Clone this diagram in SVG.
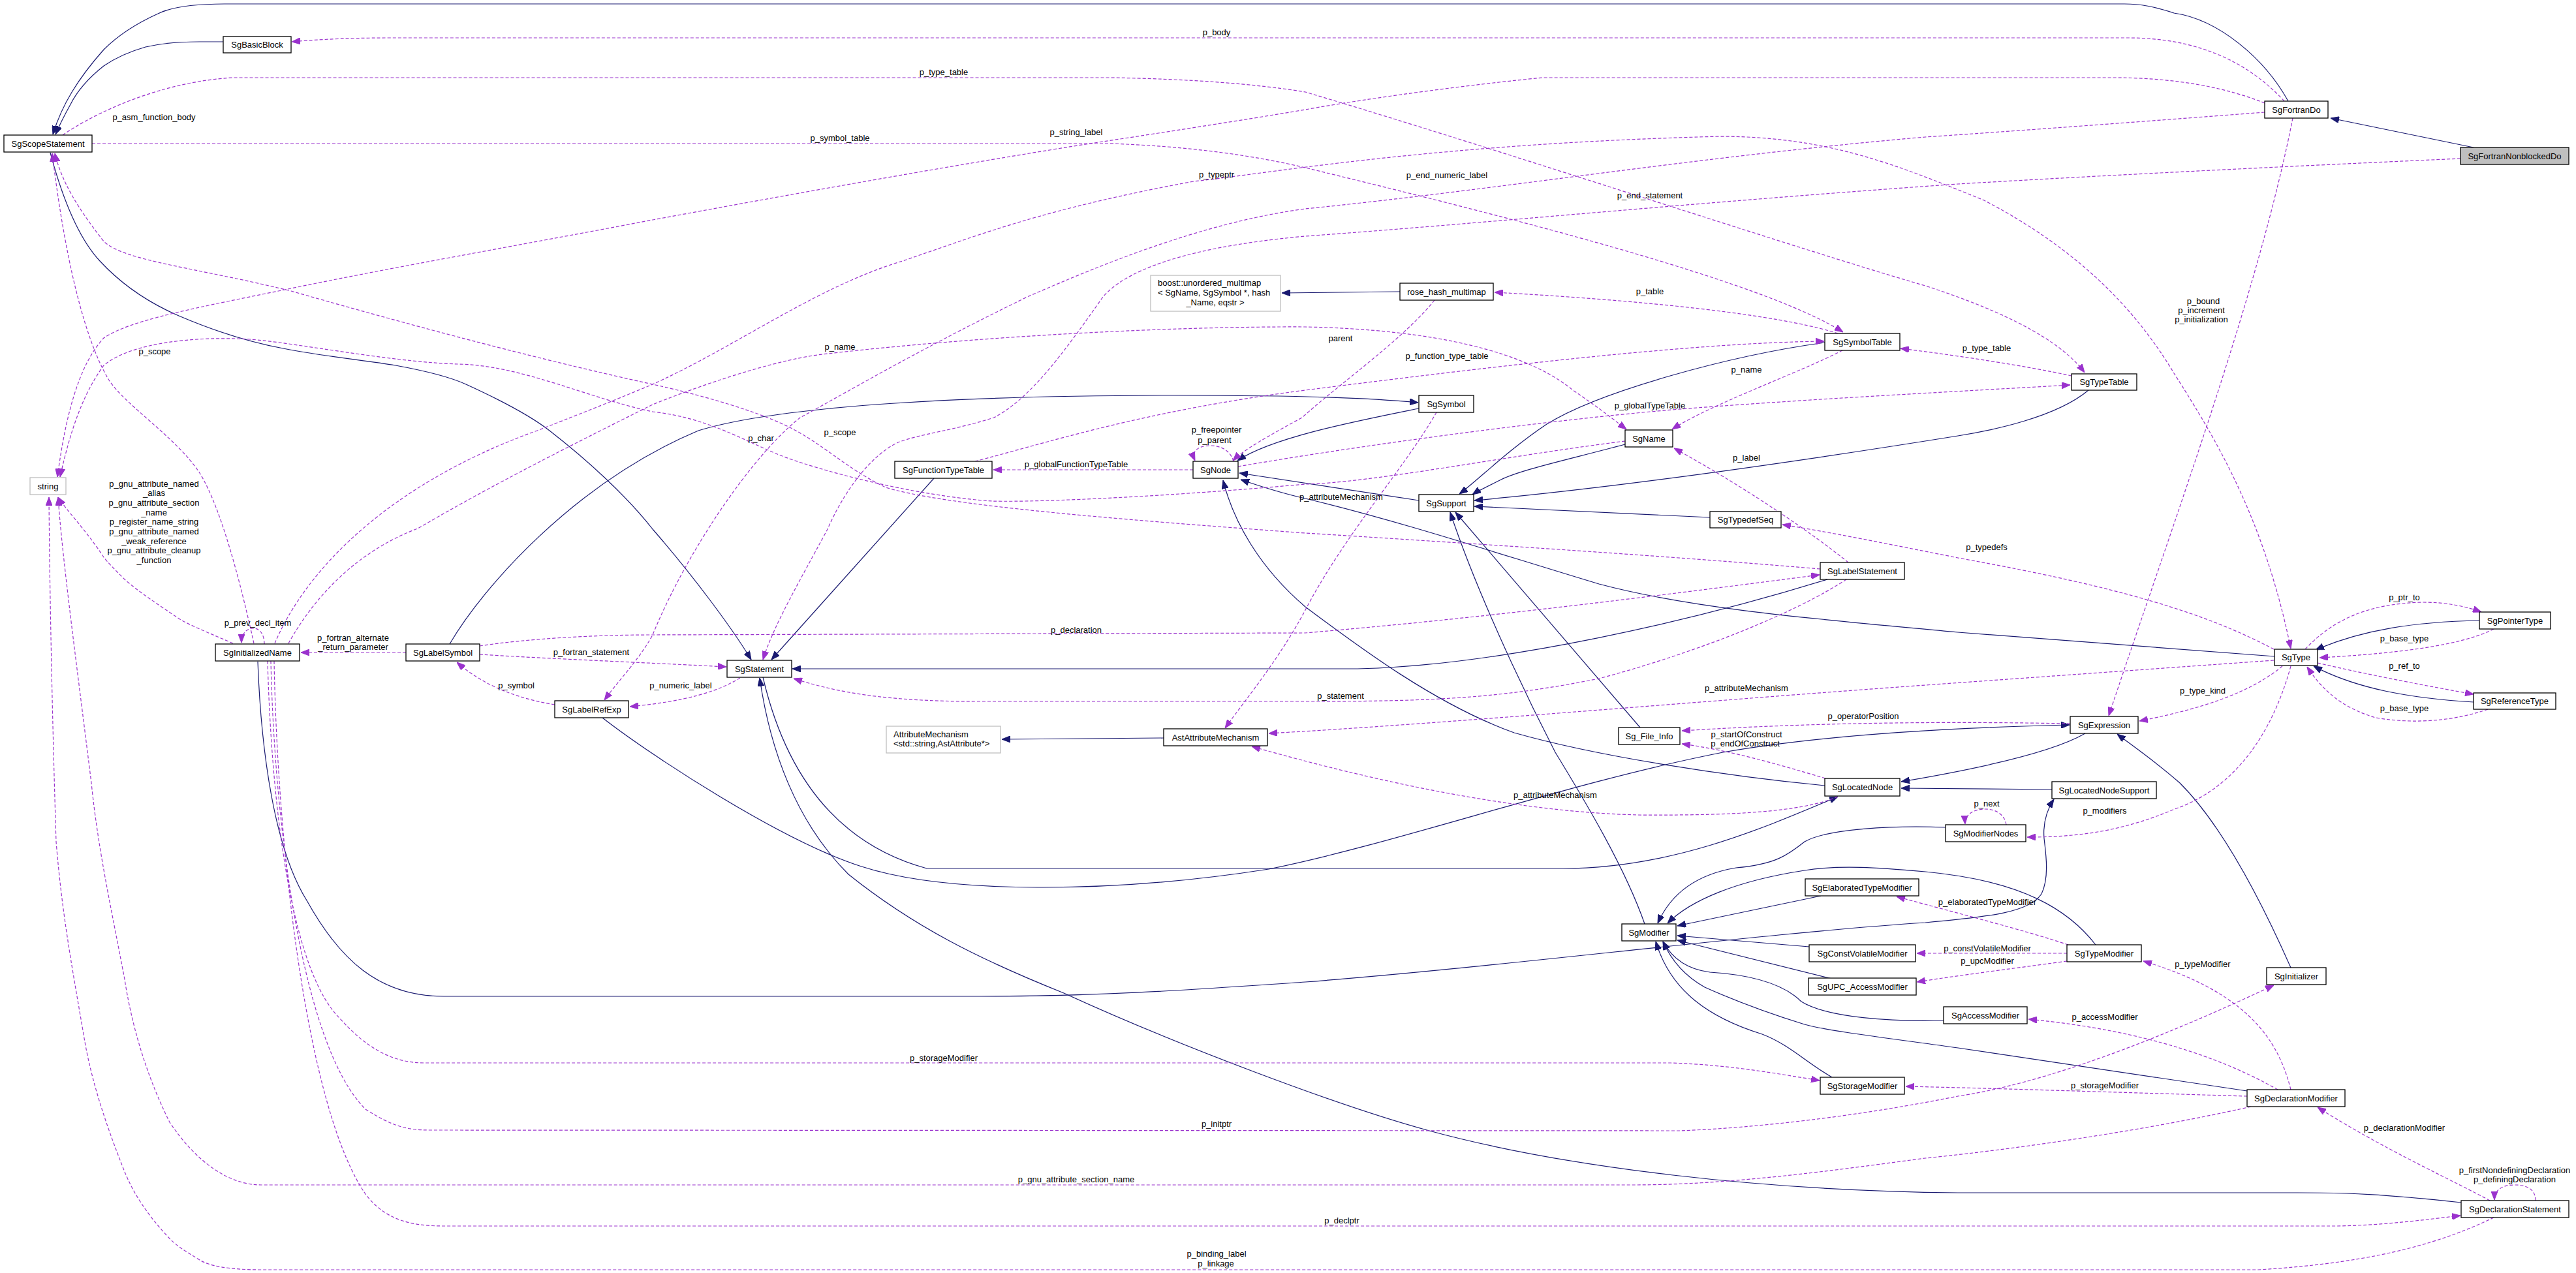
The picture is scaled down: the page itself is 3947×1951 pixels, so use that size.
<svg xmlns="http://www.w3.org/2000/svg" width="3947" height="1951" viewBox="0 0 3947 1951">
<style>
.node rect{fill:#fff;stroke:#000;stroke-width:1.3}
.ext rect{fill:#fff;stroke:#bfbfbf;stroke-width:1.3}
.hl rect{fill:#bfbfbf;stroke:#000;stroke-width:1.3}
text{font-family:"Liberation Sans",Arial,Helvetica,sans-serif;font-size:13px;fill:#000}
.c{text-anchor:middle}
.inh{fill:none;stroke:#191970;stroke-width:1.2}
.use{fill:none;stroke:#9a32cd;stroke-width:1.2;stroke-dasharray:5,3}
</style>
<defs>
<marker id="ai" markerUnits="userSpaceOnUse" markerWidth="13" markerHeight="10" viewBox="0 0 13 10" refX="13" refY="5" orient="auto"><path d="M0,0 L13,5 L0,10 z" fill="#191970" stroke="#191970" stroke-width="1"/></marker>
<marker id="au" markerUnits="userSpaceOnUse" markerWidth="13" markerHeight="10" viewBox="0 0 13 10" refX="13" refY="5" orient="auto"><path d="M0,0 L13,5 L0,10 z" fill="#9a32cd" stroke="#9a32cd" stroke-width="1"/></marker>
</defs>
<rect width="3947" height="1951" fill="#fff"/>
<g id="connectors">
<g class="inh" marker-end="url(#ai)">
<path d="M3790,226 L3571,181"/>
<path d="M3506,155 C3470,90 3400,30 3331,20 C3300,10 3280,6 3255,6 L344,6 C290,6 260,12 242,21 C200,40 175,60 159,76 C120,120 95,160 81,206"/>
<path d="M342,64 L306,64 C270,64 240,68 223,72 C195,80 175,90 159,101 C135,120 118,140 108,160 C98,178 91,192 85,206"/>
<path d="M77,234 C100,320 125,370 153,400 C190,440 230,465 274,484 C330,508 380,524 434,534 C500,547 560,552 606,560 C650,568 690,578 714,589 C760,610 810,635 842,660 C900,705 960,760 1000,811 C1060,880 1120,960 1151,1011"/>
<path d="M1431,733 L1182,1011"/>
<path d="M2800,888 C2600,950 2300,1020 2080,1025 L1214,1025"/>
<path d="M1169,1038 C1200,1170 1270,1290 1420,1331 L2395,1331 C2560,1331 2700,1270 2816,1221"/>
<path d="M3771,1843 C3650,1830 3600,1828 3520,1828 L3000,1828 C2700,1825 2400,1790 2190,1733 C2050,1695 1800,1600 1630,1522 C1500,1470 1400,1420 1300,1340 C1220,1260 1180,1150 1164,1039"/>
<path d="M923,1100 C1000,1160 1200,1290 1320,1328 C1450,1370 1700,1370 1944,1332 C2150,1290 2400,1200 2640,1153 C2800,1125 3000,1115 3171,1111"/>
<path d="M689,987 C740,900 880,740 1070,660 C1200,620 1500,606 1800,606 C2000,606 2100,610 2173,617"/>
<path d="M2174,626 C2080,645 1950,670 1896,706"/>
<path d="M2174,767 C2100,755 2000,740 1899,725"/>
<path d="M3485,1006 L3000,969 C2800,950 2600,935 2450,895 C2300,850 2150,800 2000,764 C1960,755 1930,745 1901,735"/>
<path d="M2796,1204 C2650,1190 2450,1160 2320,1123 C2200,1080 2080,990 2000,930 C1930,870 1890,800 1874,736"/>
<path d="M2490,681 C2400,705 2330,720 2300,735 C2280,745 2265,752 2256,758"/>
<path d="M2796,525 C2650,545 2450,600 2370,650 C2310,690 2260,740 2236,757"/>
<path d="M3200,598 C3150,640 3050,660 3000,668 C2800,700 2500,745 2259,767"/>
<path d="M2620,793 L2259,776"/>
<path d="M2513,1115 L2230,785"/>
<path d="M2520,1416 C2490,1330 2430,1230 2383,1153 C2330,1050 2260,900 2222,785"/>
<path d="M395,1014 C400,1150 420,1300 470,1380 C520,1470 580,1527 680,1527 L1500,1527 C1700,1527 1850,1515 2000,1505 C2300,1482 2700,1430 2950,1414 C3050,1405 3110,1398 3128,1370 C3140,1345 3135,1310 3132,1285 C3130,1260 3137,1240 3147,1225"/>
<path d="M3144,1210 L2913,1208"/>
<path d="M3195,1124 C3150,1150 3050,1175 2913,1198"/>
<path d="M3510,1483 C3460,1370 3400,1260 3340,1200 C3300,1165 3270,1145 3244,1125"/>
<path d="M1783,1131 L1535,1133"/>
<path d="M2145,447 L1964,449"/>
<path d="M3799,951 C3700,953 3620,965 3548,996"/>
<path d="M3790,1076 C3690,1070 3610,1055 3545,1021"/>
<path d="M2981,1268 C2900,1265 2800,1270 2765,1290 C2740,1310 2720,1325 2660,1330 C2600,1340 2560,1370 2540,1415"/>
<path d="M3211,1448 C3170,1395 3100,1350 2950,1336 C2880,1330 2820,1325 2765,1334 C2660,1350 2590,1380 2555,1415"/>
<path d="M2790,1373 L2570,1419"/>
<path d="M2772,1451 L2570,1434"/>
<path d="M2807,1500 L2570,1441"/>
<path d="M2978,1564 C2900,1566 2800,1560 2760,1535 C2740,1515 2700,1495 2620,1490 C2580,1485 2560,1465 2548,1443"/>
<path d="M2807,1651 C2770,1630 2740,1600 2700,1585 C2620,1560 2560,1520 2537,1443"/>
<path d="M3443,1672 L3000,1606 C2900,1592 2800,1580 2765,1570 C2700,1550 2650,1530 2612,1513 C2580,1495 2560,1470 2548,1443"/>
</g>
<g class="use" marker-end="url(#au)">
<path d="M3500,155 C3440,90 3360,58 3260,58 L600,58 C520,58 470,62 447,64"/>
<path d="M3470,158 C3400,130 3320,119 3236,119 L2364,119 C2250,130 2100,150 2000,168 C1900,185 1750,208 1670,220 C1450,255 1200,300 1000,337 C800,375 600,410 446,442 C300,472 200,490 159,518 C120,560 100,640 88,731"/>
<path d="M141,220 L1700,220 C1820,224 1920,238 2000,257 C2300,330 2700,430 2824,509"/>
<path d="M96,207 C150,170 250,125 357,119 L1700,119 C1820,121 1920,128 2000,141 C2300,230 2750,380 2950,438 C3080,480 3160,525 3194,571"/>
<path d="M3174,576 C3100,560 3000,545 2912,534"/>
<path d="M2816,511 C2750,490 2600,465 2290,448"/>
<path d="M2823,537 C2760,570 2620,620 2562,658"/>
<path d="M442,986 C490,900 560,840 640,810 C760,740 880,680 1000,620 C1100,580 1200,550 1260,543 C1500,515 1800,500 2000,501 C2200,505 2340,540 2410,598 C2450,625 2475,645 2492,658"/>
<path d="M421,986 C470,870 600,740 823,660 C900,630 950,610 1000,589 C1130,530 1250,440 1383,400 C1500,360 1600,320 1829,278 C1950,265 2200,220 2638,209 C2800,210 2900,250 3040,307 C3180,380 3270,470 3331,572 C3400,680 3470,800 3510,994"/>
<path d="M389,986 C370,900 340,780 306,725 C270,670 190,620 166,581 C130,520 100,400 80,235"/>
<path d="M2789,872 C2600,856 2383,841 2000,817 C1700,795 1450,775 1357,747 C1300,720 1260,680 1210,655 C1150,625 1050,600 1000,589 C800,545 600,490 446,446 C300,410 190,400 159,370 C120,320 95,280 84,235"/>
<path d="M2490,676 C2300,700 2100,740 2000,742 C1800,760 1600,770 1520,768 C1400,760 1250,720 1191,696 C1130,670 1080,640 1000,631 C900,610 800,560 702,558 C600,555 450,525 383,520 C300,515 200,525 159,560 C130,600 110,650 92,731"/>
<path d="M2832,862 C2780,820 2680,750 2565,687"/>
<path d="M2829,888 C2750,940 2600,1000 2450,1040 C2300,1070 2200,1075 2000,1075 L1500,1075 C1350,1075 1280,1060 1216,1040"/>
<path d="M735,1003 C850,1010 1000,1016 1113,1022"/>
<path d="M622,1000 L461,1000"/>
<path d="M735,990 C800,980 900,973 1000,973 L2000,970 C2300,945 2600,905 2788,881"/>
<path d="M850,1080 C790,1070 740,1050 700,1015"/>
<path d="M1134,1039 C1100,1060 1050,1075 965,1083"/>
<path d="M3470,172 C3300,185 3100,200 2950,210 C2600,240 2300,290 2000,320 C1850,340 1700,400 1574,455 C1400,540 1300,600 1226,640 C1150,700 1050,850 1000,973 C980,1010 950,1040 926,1073"/>
<path d="M3770,243 C3500,255 3200,270 3000,282 C2600,310 2300,340 2000,362 C1800,380 1720,420 1690,455 C1630,540 1580,610 1523,640 C1460,660 1410,665 1376,678 C1330,700 1290,760 1268,811 C1220,900 1185,960 1169,1011"/>
<path d="M3513,181 C3460,450 3330,800 3231,1097"/>
<path d="M3532,995 C3570,955 3620,925 3713,923 C3750,923 3780,930 3802,938"/>
<path d="M3821,964 C3780,985 3700,1000 3554,1008"/>
<path d="M3551,1016 C3620,1032 3700,1048 3790,1064"/>
<path d="M3812,1087 C3760,1105 3700,1110 3640,1100 C3590,1085 3560,1060 3535,1022"/>
<path d="M3497,1021 C3450,1060 3380,1085 3278,1105"/>
<path d="M3510,1021 C3480,1130 3420,1210 3332,1240 C3250,1275 3180,1283 3106,1283"/>
<path d="M3484,995 C3380,940 3250,900 3000,855 C2900,835 2800,815 2731,804"/>
<path d="M3484,1012 L2950,1050 C2600,1075 2200,1110 1944,1124"/>
<path d="M2816,1221 C2760,1245 2650,1250 2510,1249 C2350,1245 2150,1210 1918,1144"/>
<path d="M2201,632 C2150,720 2060,820 2000,935 C1960,1010 1910,1070 1877,1116"/>
<path d="M1890,707 C1885,690 1870,683 1855,683 C1835,683 1825,692 1831,706"/>
<path d="M1828,720 L1522,720"/>
<path d="M1897,715 C2100,680 2400,640 2600,625 C2800,610 3000,600 3172,590"/>
<path d="M1494,707 C1600,680 1750,630 2000,598 C2300,560 2600,525 2795,523"/>
<path d="M2198,460 C2150,520 2050,590 1995,640 C1940,670 1905,690 1889,706"/>
<path d="M357,986 C320,970 290,958 274,948 C240,925 210,905 191,888 C175,872 165,862 159,854 C130,810 100,780 89,762"/>
<path d="M405,987 C405,975 400,963 388,963 C375,963 370,975 370,985"/>
<path d="M410,1013 C415,1200 440,1480 520,1560 C560,1605 600,1629 650,1629 L2560,1629 C2650,1632 2720,1645 2788,1656"/>
<path d="M415,1013 C420,1250 460,1600 560,1700 C600,1725 620,1732 660,1732 L2574,1733 C2700,1728 2850,1710 3000,1680 C3100,1665 3250,1620 3484,1510"/>
<path d="M420,1013 C425,1300 470,1700 560,1830 C590,1870 630,1879 680,1879 L3580,1879 C3650,1878 3710,1870 3770,1863"/>
<path d="M3449,1696 C3300,1730 3100,1760 2950,1775 C2800,1795 2650,1816 2500,1816 L400,1816 C350,1816 300,1780 260,1720 C220,1640 200,1560 191,1501 C170,1390 150,1300 140,1200 C115,1000 95,850 89,762"/>
<path d="M3821,1866 C3750,1900 3650,1935 3460,1946 L400,1946 C350,1946 320,1940 306,1931 C285,1918 270,1910 255,1893 C225,1860 205,1830 191,1796 C165,1730 140,1660 128,1585 C110,1480 95,1400 86,1290 C80,1100 76,900 75,762"/>
<path d="M3885,1840 C3885,1825 3875,1816 3853,1816 C3832,1816 3822,1825 3822,1839"/>
<path d="M3815,1840 C3760,1810 3650,1760 3551,1697"/>
<path d="M3510,1670 C3490,1590 3440,1520 3284,1473"/>
<path d="M3490,1670 C3420,1630 3300,1580 3108,1562"/>
<path d="M3443,1680 C3300,1676 3100,1669 2920,1665"/>
<path d="M3169,1448 C3100,1425 3000,1400 2906,1374"/>
<path d="M3167,1461 L2937,1461"/>
<path d="M3167,1473 C3080,1485 3000,1495 2937,1505"/>
<path d="M3074,1264 C3072,1250 3060,1240 3042,1240 C3022,1240 3010,1250 3011,1263"/>
<path d="M3172,1109 C3000,1106 2800,1106 2577,1120"/>
<path d="M2797,1193 C2720,1170 2650,1150 2577,1140"/>
</g>
<g class="c">
<text x="1864" y="54">p_body</text>
<text x="1446" y="115">p_type_table</text>
<text x="1287" y="216">p_symbol_table</text>
<text x="1649" y="207">p_string_label</text>
<text x="236" y="184">p_asm_function_body</text>
<text x="1864" y="272">p_typeptr</text>
<text x="2217" y="273">p_end_numeric_label</text>
<text x="2528" y="304">p_end_statement</text>
<text x="2528" y="451">p_table</text>
<text x="2054" y="523">parent</text>
<text x="2217" y="550">p_function_type_table</text>
<text x="2676" y="571">p_name</text>
<text x="1287" y="536">p_name</text>
<text x="3044" y="538">p_type_table</text>
<text x="2528" y="626">p_globalTypeTable</text>
<text x="3376" y="466">p_bound</text>
<text x="3373" y="480">p_increment</text>
<text x="3373" y="494">p_initialization</text>
<text x="237" y="543">p_scope</text>
<text x="1287" y="667">p_scope</text>
<text x="1166" y="676">p_char</text>
<text x="1864" y="663">p_freepointer</text>
<text x="1861" y="679">p_parent</text>
<text x="1649" y="716">p_globalFunctionTypeTable</text>
<text x="2676" y="706">p_label</text>
<text x="2055" y="766">p_attributeMechanism</text>
<text x="3044" y="843">p_typedefs</text>
<text x="3684" y="920">p_ptr_to</text>
<text x="3684" y="983">p_base_type</text>
<text x="3684" y="1025">p_ref_to</text>
<text x="3684" y="1090">p_base_type</text>
<text x="3375" y="1063">p_type_kind</text>
<text x="2676" y="1059">p_attributeMechanism</text>
<text x="2054" y="1071">p_statement</text>
<text x="1649" y="970">p_declaration</text>
<text x="541" y="982">p_fortran_alternate</text>
<text x="541" y="996">_return_parameter</text>
<text x="906" y="1004">p_fortran_statement</text>
<text x="791" y="1055">p_symbol</text>
<text x="1043" y="1055">p_numeric_label</text>
<text x="395" y="959">p_prev_decl_item</text>
<text x="236" y="746">p_gnu_attribute_named</text>
<text x="236" y="760">_alias</text>
<text x="236" y="775">p_gnu_attribute_section</text>
<text x="236" y="790">_name</text>
<text x="236" y="804">p_register_name_string</text>
<text x="236" y="819">p_gnu_attribute_named</text>
<text x="236" y="834">_weak_reference</text>
<text x="236" y="848">p_gnu_attribute_cleanup</text>
<text x="236" y="863">_function</text>
<text x="2855" y="1102">p_operatorPosition</text>
<text x="2676" y="1130">p_startOfConstruct</text>
<text x="2674" y="1144">p_endOfConstruct</text>
<text x="2383" y="1223">p_attributeMechanism</text>
<text x="3044" y="1236">p_next</text>
<text x="3225" y="1247">p_modifiers</text>
<text x="3045" y="1387">p_elaboratedTypeModifier</text>
<text x="3045" y="1458">p_constVolatileModifier</text>
<text x="3045" y="1477">p_upcModifier</text>
<text x="3375" y="1482">p_typeModifier</text>
<text x="3225" y="1563">p_accessModifier</text>
<text x="1446" y="1626">p_storageModifier</text>
<text x="3225" y="1668">p_storageModifier</text>
<text x="1864" y="1727">p_initptr</text>
<text x="3684" y="1733">p_declarationModifier</text>
<text x="3853" y="1798">p_firstNondefiningDeclaration</text>
<text x="3853" y="1812">p_definingDeclaration</text>
<text x="1649" y="1812">p_gnu_attribute_section_name</text>
<text x="2056" y="1875">p_declptr</text>
<text x="1864" y="1926">p_binding_label</text>
<text x="1863" y="1941">p_linkage</text>
</g>
</g>
<g id="n1" class="hl"><rect x="3770" y="226" width="166" height="26"/><text class="c" x="3853" y="243.5">SgFortranNonblockedDo</text></g>
<g id="n2" class="node"><rect x="3470" y="155" width="97" height="26"/><text class="c" x="3518.5" y="172.5">SgFortranDo</text></g>
<g id="n3" class="node"><rect x="342" y="56" width="104" height="25"/><text class="c" x="394" y="73">SgBasicBlock</text></g>
<g id="n4" class="node"><rect x="6" y="207" width="135" height="26"/><text class="c" x="73.5" y="224.5">SgScopeStatement</text></g>
<g id="n5" class="ext"><rect x="1763" y="422" width="199" height="55"/><text x="1774" y="438">boost::unordered_multimap</text><text x="1774" y="453">&lt; SgName, SgSymbol *, hash</text><text class="c" x="1862" y="468">_Name, eqstr &gt;</text></g>
<g id="n6" class="node"><rect x="2145" y="434" width="143" height="26"/><text class="c" x="2216.5" y="451.5">rose_hash_multimap</text></g>
<g id="n7" class="node"><rect x="2796" y="511" width="115" height="26"/><text class="c" x="2853.5" y="528.5">SgSymbolTable</text></g>
<g id="n8" class="node"><rect x="2174" y="606" width="84" height="26"/><text class="c" x="2216" y="623.5">SgSymbol</text></g>
<g id="n9" class="node"><rect x="3174" y="573" width="100" height="25"/><text class="c" x="3224" y="590">SgTypeTable</text></g>
<g id="n10" class="ext"><rect x="46" y="732" width="55" height="26"/><text class="c" x="73.5" y="749.5">string</text></g>
<g id="n11" class="node"><rect x="330" y="987" width="129" height="26"/><text class="c" x="394.5" y="1004.5">SgInitializedName</text></g>
<g id="n12" class="node"><rect x="622" y="987" width="113" height="26"/><text class="c" x="678.5" y="1004.5">SgLabelSymbol</text></g>
<g id="n13" class="node"><rect x="850" y="1074" width="113" height="26"/><text class="c" x="906.5" y="1091.5">SgLabelRefExp</text></g>
<g id="n14" class="node"><rect x="1371" y="707" width="149" height="26"/><text class="c" x="1445.5" y="724.5">SgFunctionTypeTable</text></g>
<g id="n15" class="node"><rect x="1828" y="707" width="69" height="26"/><text class="c" x="1862.5" y="724.5">SgNode</text></g>
<g id="n16" class="node"><rect x="1114" y="1012" width="99" height="26"/><text class="c" x="1163.5" y="1029.5">SgStatement</text></g>
<g id="n17" class="ext"><rect x="1358" y="1113" width="175" height="41"/><text x="1369" y="1130">AttributeMechanism</text><text x="1369" y="1144">&lt;std::string,AstAttribute*&gt;</text></g>
<g id="n18" class="node"><rect x="1783" y="1117" width="159" height="26"/><text class="c" x="1862.5" y="1134.5">AstAttributeMechanism</text></g>
<g id="n19" class="node"><rect x="2490" y="659" width="73" height="26"/><text class="c" x="2526.5" y="676.5">SgName</text></g>
<g id="n20" class="node"><rect x="2174" y="758" width="84" height="26"/><text class="c" x="2216" y="775.5">SgSupport</text></g>
<g id="n21" class="node"><rect x="2620" y="784" width="109" height="25"/><text class="c" x="2674.5" y="801">SgTypedefSeq</text></g>
<g id="n22" class="node"><rect x="2789" y="862" width="129" height="26"/><text class="c" x="2853.5" y="879.5">SgLabelStatement</text></g>
<g id="n23" class="node"><rect x="2480" y="1115" width="94" height="26"/><text class="c" x="2527" y="1132.5">Sg_File_Info</text></g>
<g id="n24" class="node"><rect x="2796" y="1193" width="115" height="27"/><text class="c" x="2853.5" y="1211">SgLocatedNode</text></g>
<g id="n25" class="node"><rect x="3485" y="995" width="66" height="25"/><text class="c" x="3518" y="1012">SgType</text></g>
<g id="n26" class="node"><rect x="3799" y="938" width="109" height="26"/><text class="c" x="3853.5" y="955.5">SgPointerType</text></g>
<g id="n27" class="node"><rect x="3790" y="1062" width="126" height="25"/><text class="c" x="3853" y="1079">SgReferenceType</text></g>
<g id="n28" class="node"><rect x="3172" y="1098" width="104" height="26"/><text class="c" x="3224" y="1115.5">SgExpression</text></g>
<g id="n29" class="node"><rect x="3144" y="1198" width="160" height="26"/><text class="c" x="3224" y="1215.5">SgLocatedNodeSupport</text></g>
<g id="n30" class="node"><rect x="2981" y="1264" width="123" height="26"/><text class="c" x="3042.5" y="1281.5">SgModifierNodes</text></g>
<g id="n31" class="node"><rect x="2485" y="1416" width="83" height="26"/><text class="c" x="2526.5" y="1433.5">SgModifier</text></g>
<g id="n32" class="node"><rect x="2766" y="1347" width="174" height="26"/><text class="c" x="2853" y="1364.5">SgElaboratedTypeModifier</text></g>
<g id="n33" class="node"><rect x="2772" y="1448" width="163" height="26"/><text class="c" x="2853.5" y="1465.5">SgConstVolatileModifier</text></g>
<g id="n34" class="node"><rect x="2771" y="1499" width="165" height="26"/><text class="c" x="2853.5" y="1516.5">SgUPC_AccessModifier</text></g>
<g id="n35" class="node"><rect x="2789" y="1651" width="129" height="26"/><text class="c" x="2853.5" y="1668.5">SgStorageModifier</text></g>
<g id="n36" class="node"><rect x="3167" y="1448" width="114" height="26"/><text class="c" x="3224" y="1465.5">SgTypeModifier</text></g>
<g id="n37" class="node"><rect x="3473" y="1483" width="91" height="26"/><text class="c" x="3518.5" y="1500.5">SgInitializer</text></g>
<g id="n38" class="node"><rect x="2978" y="1543" width="128" height="26"/><text class="c" x="3042" y="1560.5">SgAccessModifier</text></g>
<g id="n39" class="node"><rect x="3443" y="1670" width="150" height="26"/><text class="c" x="3518" y="1687.5">SgDeclarationModifier</text></g>
<g id="n40" class="node"><rect x="3771" y="1840" width="165" height="26"/><text class="c" x="3853.5" y="1857.5">SgDeclarationStatement</text></g>
</svg>
